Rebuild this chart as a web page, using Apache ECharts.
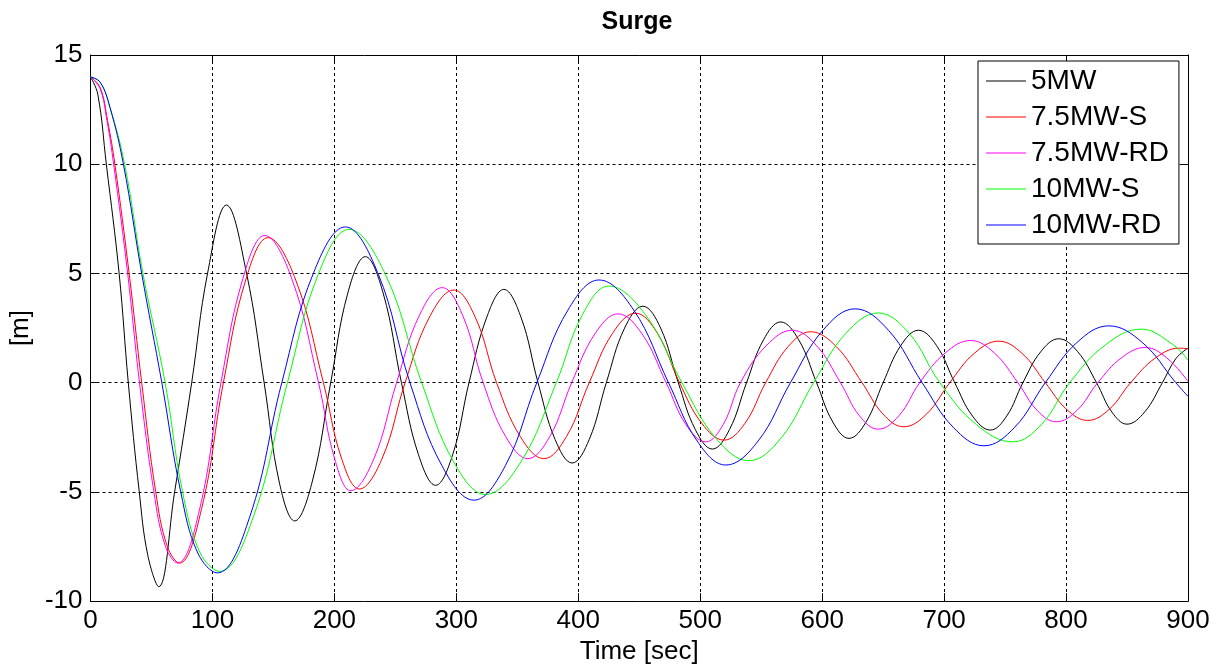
<!DOCTYPE html>
<html>
<head>
<meta charset="utf-8">
<script src="https://cdn.jsdelivr.net/npm/echarts@6/dist/echarts.min.js"></script>
<style>
html,body{margin:0;padding:0;background:#fff;}
#c{width:1221px;height:670px;}
</style>
</head>
<body>
<div id="c"></div>
<script>
const seriesNames = ['5MW', '7.5MW-S', '7.5MW-RD', '10MW-S', '10MW-RD'];
const seriesColors = ['#000000', '#ff0000', '#ff00ff', '#00ff00', '#0000ff'];

// time [sec] and surge [m]
const t5MW = [0, 6, 13, 23.5, 31, 40, 47, 56, 69, 83, 96, 111.5, 128, 142.4, 155, 167.5, 182, 197, 211, 225.4, 240, 255, 269, 283, 297, 310.4, 325, 339, 353, 367, 381, 395, 409, 423, 438, 453, 467.5, 482, 496, 510, 524, 538, 552, 566, 580.7, 595.4, 608.7, 622, 636, 650, 664.5, 679, 693.8, 708.7, 723.3, 738, 751.3, 764.6, 779.3, 794, 809.5, 825, 837.5, 850, 864.5, 879, 890, 900];
const v5MW = [14, 13.2, 10, 5, 0, -5, -7.9, -9.34, -5, 0, 5, 8.13, 5, 0, -4.6, -6.33, -4.5, 0, 4.1, 5.77, 4.1, 0, -3.3, -4.70, -3.3, 0, 3.0, 4.27, 3.0, 0, -2.6, -3.68, -2.6, 0, 2.5, 3.5, 2.5, 0, -2.15, -3.04, -2.15, 0, 1.97, 2.78, 1.97, 0, -1.8, -2.55, -1.8, 0, 1.7, 2.40, 1.7, 0, -1.53, -2.17, -1.53, 0, 1.42, 2.01, 1.42, 0, -1.34, -1.90, -1.34, 0, 1.1, 1.58];

const t75S = [0, 8, 14, 20, 31.7, 42, 53.5, 63, 73, 91, 109, 127.3, 145.6, 168.3, 191, 205.8, 220.5, 239.3, 258, 278, 298, 315.5, 333, 352.4, 371.8, 390.4, 409, 428, 447, 465, 483, 501.3, 519.6, 536.7, 553.7, 572.1, 590.5, 611.6, 632.7, 649.8, 666.8, 685.7, 704.6, 724.7, 744.7, 763.9, 783, 800.4, 817.8, 835.4, 853, 873, 893, 900];
const v75S = [14, 13.5, 12.0, 10, 5, 0, -5, -7.5, -8.26, -5.8, 0, 4.7, 6.64, 4.7, 0, -3.45, -4.87, -3.45, 0, 3.0, 4.24, 3.0, 0, -2.46, -3.48, -2.46, 0, 2.25, 3.18, 2.25, 0, -1.86, -2.63, -1.86, 0, 1.65, 2.33, 1.65, 0, -1.43, -2.02, -1.43, 0, 1.34, 1.90, 1.34, 0, -1.22, -1.73, -1.22, 0, 1.12, 1.58, 1.55];

const t75RD = [0, 8, 13.5, 19, 30.5, 40.2, 52, 61.5, 71.5, 89.3, 107, 125, 142.9, 165, 187, 200.3, 213.5, 232.3, 251, 269.7, 288.4, 305.2, 322, 340.4, 358.7, 376.7, 394.6, 413.6, 432.6, 452.3, 472, 488.3, 504.6, 518.8, 533, 554.3, 575.5, 595.3, 615, 630.5, 646, 663, 680, 700.9, 721.8, 741.2, 760.5, 776.3, 792, 809, 826, 845.5, 865, 882.5, 900];
const v75RD = [14, 13.45, 12.0, 10, 5, 0, -5, -7.5, -8.26, -5.84, 0, 4.77, 6.74, 4.77, 0, -3.5, -4.95, -3.5, 0, 3.08, 4.35, 3.08, 0, -2.46, -3.48, -2.46, 0, 2.23, 3.15, 2.23, 0, -1.92, -2.71, -1.92, 0, 1.70, 2.40, 1.70, 0, -1.51, -2.13, -1.51, 0, 1.36, 1.93, 1.36, 0, -1.27, -1.79, -1.27, 0, 1.14, 1.61, 1.14, 0.06];

const t10S = [0, 8, 16, 28, 43, 61.2, 75.5, 90, 106, 133.8, 161.5, 186.8, 212, 241.8, 271.6, 297.8, 324, 353, 382, 403.5, 425, 455, 485, 512.5, 540, 566.5, 593, 619.5, 646, 671.3, 696.5, 726.5, 756.4, 779.7, 803, 832.3, 861.5, 888, 900];
const v10S = [14, 13.75, 12.6, 10, 5, 0, -5, -7.8, -8.64, -6.1, 0, 4.96, 7.02, 4.96, 0, -3.62, -5.12, -3.62, 0, 3.12, 4.42, 3.12, 0, -2.52, -3.57, -2.52, 0, 2.26, 3.19, 2.26, 0, -1.92, -2.71, -1.92, 0, 1.73, 2.45, 1.73, 1.03];

const t10RD = [0, 8, 16, 27, 42, 58.5, 74, 88, 104, 130.5, 156.9, 183, 209, 235.5, 262, 288.2, 314.4, 340.2, 366, 391.5, 417, 445.5, 474, 497.5, 521, 547.5, 574, 600.5, 627, 654.5, 682, 707.4, 732.7, 757.9, 783, 809, 835, 862.5, 890, 900];
const v10RD = [14, 13.75, 12.6, 10, 5, 0, -5, -7.8, -8.71, -6.16, 0, 5.04, 7.13, 5.04, 0, -3.8, -5.38, -3.8, 0, 3.32, 4.70, 3.32, 0, -2.67, -3.77, -2.67, 0, 2.39, 3.38, 2.39, 0, -2.04, -2.89, -2.04, 0, 1.84, 2.60, 1.84, 0, -0.63];

const xTickStep = 100, xMin = 0, xMax = 900;
const yTickStep = 5, yMin = -10, yMax = 15;

const timeArrays = [t5MW, t75S, t75RD, t10S, t10RD];
const valueArrays = [v5MW, v75S, v75RD, v10S, v10RD];

const FONT = '"Liberation Sans", Arial, sans-serif';

const series = seriesNames.map((name, k) => ({
  name: name,
  type: 'line',
  xAxisIndex: 0,
  yAxisIndex: 0,
  data: timeArrays[k].map((t, i) => [t, valueArrays[k][i]]),
  symbol: 'none',
  smooth: 0.4,
  lineStyle: { color: seriesColors[k], width: 1 },
  itemStyle: { color: seriesColors[k] },
  emphasis: { disabled: true }
}));

const chart = echarts.init(document.getElementById('c'), null, { renderer: 'canvas' });
chart.setOption({
  animation: false,
  backgroundColor: '#ffffff',
  title: {
    text: 'Surge',
    left: 632, textAlign: 'center',
    top: 5,
    textStyle: { fontFamily: FONT, fontSize: 25, fontWeight: 'bold', color: '#000' }
  },
  legend: {
    orient: 'vertical',
    left: 978, top: 61,
    backgroundColor: '#ffffff',
    borderColor: '#000', borderWidth: 1,
    padding: [6, 10, 5, 8],
    icon: 'rect',
    itemWidth: 40, itemHeight: 1, itemGap: 8,
    selectedMode: false,
    textStyle: { fontFamily: FONT, fontSize: 28, lineHeight: 28, color: '#000' },
    data: seriesNames
  },
  grid: { left: 90, right: 33, top: 55, bottom: 67, containLabel: false },
  xAxis: [{
    type: 'value', min: xMin, max: xMax, interval: xTickStep,
    position: 'bottom',
    name: 'Time [sec]', nameLocation: 'middle', nameGap: 37,
    nameTextStyle: { fontFamily: FONT, fontSize: 26, color: '#000' },
    axisLine: { show: true, onZero: false, lineStyle: { color: '#000', width: 1 } },
    axisTick: { show: true, inside: true, length: 8, lineStyle: { color: '#000' } },
    axisLabel: { fontFamily: FONT, fontSize: 26, color: '#000', margin: 7, showMinLabel: true, showMaxLabel: true },
    splitLine: { show: true, lineStyle: { color: '#000', width: 1, type: [3, 3] } }
  }, {
    type: 'value', min: xMin, max: xMax, interval: xTickStep,
    position: 'top',
    axisLine: { show: true, onZero: false, lineStyle: { color: '#000', width: 1 } },
    axisTick: { show: true, inside: true, length: 8, lineStyle: { color: '#000' } },
    axisLabel: { show: false },
    splitLine: { show: false }
  }],
  yAxis: [{
    type: 'value', min: yMin, max: yMax, interval: yTickStep,
    position: 'left',
    name: '[m]', nameLocation: 'middle', nameGap: 42,
    nameTextStyle: { fontFamily: FONT, fontSize: 26, color: '#000' },
    axisLine: { show: true, onZero: false, lineStyle: { color: '#000', width: 1 } },
    axisTick: { show: true, inside: true, length: 8, lineStyle: { color: '#000' } },
    axisLabel: { fontFamily: FONT, fontSize: 26, color: '#000', margin: 8, showMinLabel: true, showMaxLabel: true },
    splitLine: { show: true, lineStyle: { color: '#000', width: 1, type: [3, 3] } }
  }, {
    type: 'value', min: yMin, max: yMax, interval: yTickStep,
    position: 'right',
    axisLine: { show: true, onZero: false, lineStyle: { color: '#000', width: 1 } },
    axisTick: { show: true, inside: true, length: 8, lineStyle: { color: '#000' } },
    axisLabel: { show: false },
    splitLine: { show: false }
  }],
  series: series
});
</script>
</body>
</html>
